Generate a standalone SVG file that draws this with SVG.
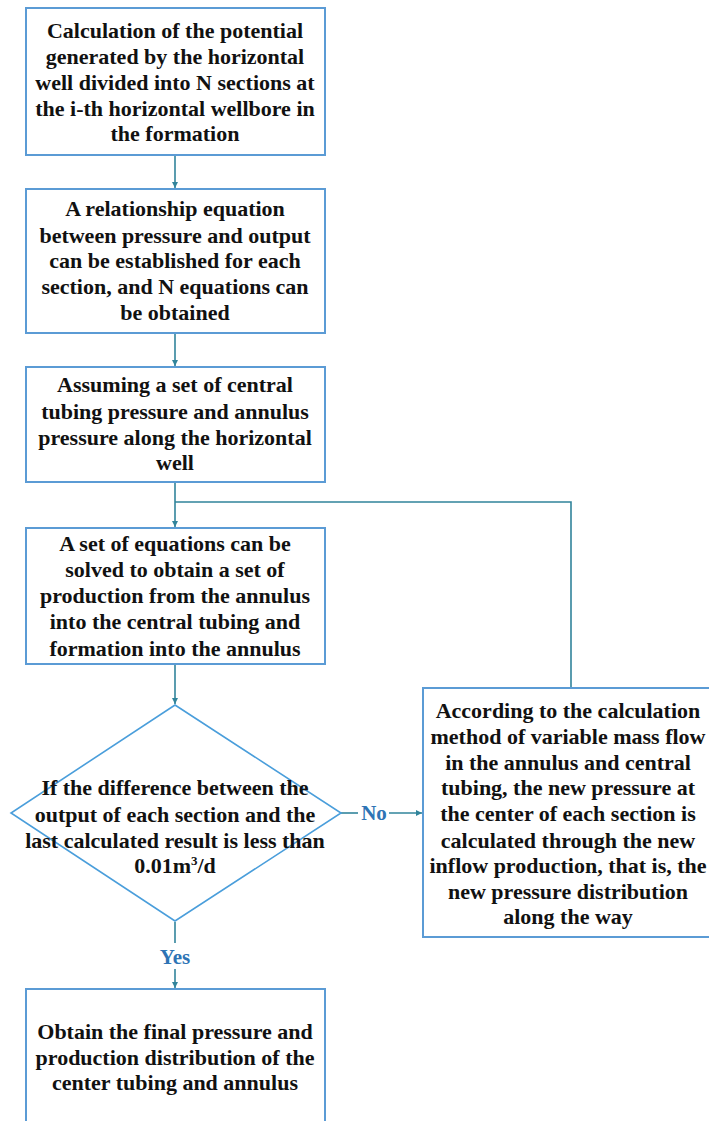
<svg xmlns="http://www.w3.org/2000/svg" width="709" height="1121" viewBox="0 0 709 1121" font-family="Liberation Serif, Times New Roman, serif">
<style>
.box{fill:#ffffff;stroke:#5b9bd5;stroke-width:2}
.dia{fill:none;stroke:#4a9edb;stroke-width:1.6}
.t{font-weight:700;font-size:22px;fill:#111111;text-anchor:middle}
.lbl{font-weight:700;font-size:21px;fill:#2e74b5;text-anchor:middle}
.c{fill:none;stroke:#31849b;stroke-width:1.6}
</style>
<defs>
<marker id="ah" viewBox="0 0 6 6" refX="6" refY="3" markerWidth="6" markerHeight="6" markerUnits="userSpaceOnUse" orient="auto">
<path d="M0,0 L6,3 L0,6 Z" fill="#31849b"/>
</marker>
</defs>
<rect width="709" height="1121" fill="#ffffff"/>
<g id="connectors">
<line class="c" x1="175" y1="155" x2="175" y2="188" marker-end="url(#ah)"/>
<line class="c" x1="175" y1="333" x2="175" y2="366" marker-end="url(#ah)"/>
<line class="c" x1="175" y1="482" x2="175" y2="527" marker-end="url(#ah)"/>
<polyline class="c" points="571,688 571,502 175,502"/>
<line class="c" x1="175" y1="664" x2="175" y2="704" marker-end="url(#ah)"/>
<line class="c" x1="341" y1="813" x2="358" y2="813"/>
<line class="c" x1="389" y1="813" x2="422" y2="813" marker-end="url(#ah)"/>
<line class="c" x1="175" y1="922" x2="175" y2="943"/>
<line class="c" x1="175" y1="969" x2="175" y2="988" marker-end="url(#ah)"/>
<text class="lbl" x="374" y="820" font-family="Liberation Serif">No</text>
<text class="lbl" x="175" y="964" font-family="Liberation Serif">Yes</text>
</g>
<g id="n1" font-family="Liberation Serif">
<rect class="box" x="26" y="8" width="299" height="147"/>
<text class="t" x="175" y="38">Calculation of the potential</text>
<text class="t" x="175" y="64">generated by the horizontal</text>
<text class="t" x="175" y="90">well divided into N sections at</text>
<text class="t" x="175" y="116">the i-th horizontal wellbore in</text>
<text class="t" x="175" y="141">the formation</text>
</g>
<g id="n2" font-family="Liberation Serif">
<rect class="box" x="26" y="189" width="299" height="144"/>
<text class="t" x="175" y="216">A relationship equation</text>
<text class="t" x="175" y="243">between pressure and output</text>
<text class="t" x="175" y="268">can be established for each</text>
<text class="t" x="175" y="294">section, and N equations can</text>
<text class="t" x="175" y="320">be obtained</text>
</g>
<g id="n3" font-family="Liberation Serif">
<rect class="box" x="26" y="367" width="299" height="115"/>
<text class="t" x="175" y="392">Assuming a set of central</text>
<text class="t" x="175" y="419">tubing pressure and annulus</text>
<text class="t" x="175" y="445">pressure along the horizontal</text>
<text class="t" x="175" y="470">well</text>
</g>
<g id="n4" font-family="Liberation Serif">
<rect class="box" x="26" y="528" width="299" height="136"/>
<text class="t" x="175" y="551">A set of equations can be</text>
<text class="t" x="175" y="577">solved to obtain a set of</text>
<text class="t" x="175" y="603">production from the annulus</text>
<text class="t" x="175" y="629">into the central tubing and</text>
<text class="t" x="175" y="656">formation into the annulus</text>
</g>
<g id="n5" font-family="Liberation Serif">
<polygon class="dia" points="175,705 341,813 175,921 11,813"/>
<text class="t" x="175" y="795">If the difference between the</text>
<text class="t" x="175" y="822">output of each section and the</text>
<text class="t" x="175" y="848">last calculated result is less than</text>
<text class="t" x="175" y="873">0.01m<tspan font-size="13" dy="-8">3</tspan><tspan dy="8">/d</tspan></text>
</g>
<g id="n6" font-family="Liberation Serif">
<rect class="box" x="423" y="688" width="290" height="249"/>
<text class="t" x="568" y="718">According to the calculation</text>
<text class="t" x="568" y="744">method of variable mass flow</text>
<text class="t" x="568" y="770">in the annulus and central</text>
<text class="t" x="568" y="795">tubing, the new pressure at</text>
<text class="t" x="568" y="821">the center of each section is</text>
<text class="t" x="568" y="848">calculated through the new</text>
<text class="t" x="568" y="873">inflow production, that is, the</text>
<text class="t" x="568" y="899">new pressure distribution</text>
<text class="t" x="568" y="924">along the way</text>
</g>
<g id="n7" font-family="Liberation Serif">
<rect class="box" x="26" y="989" width="299" height="140"/>
<text class="t" x="175" y="1039">Obtain the final pressure and</text>
<text class="t" x="175" y="1065">production distribution of the</text>
<text class="t" x="175" y="1090">center tubing and annulus</text>
</g>
</svg>
